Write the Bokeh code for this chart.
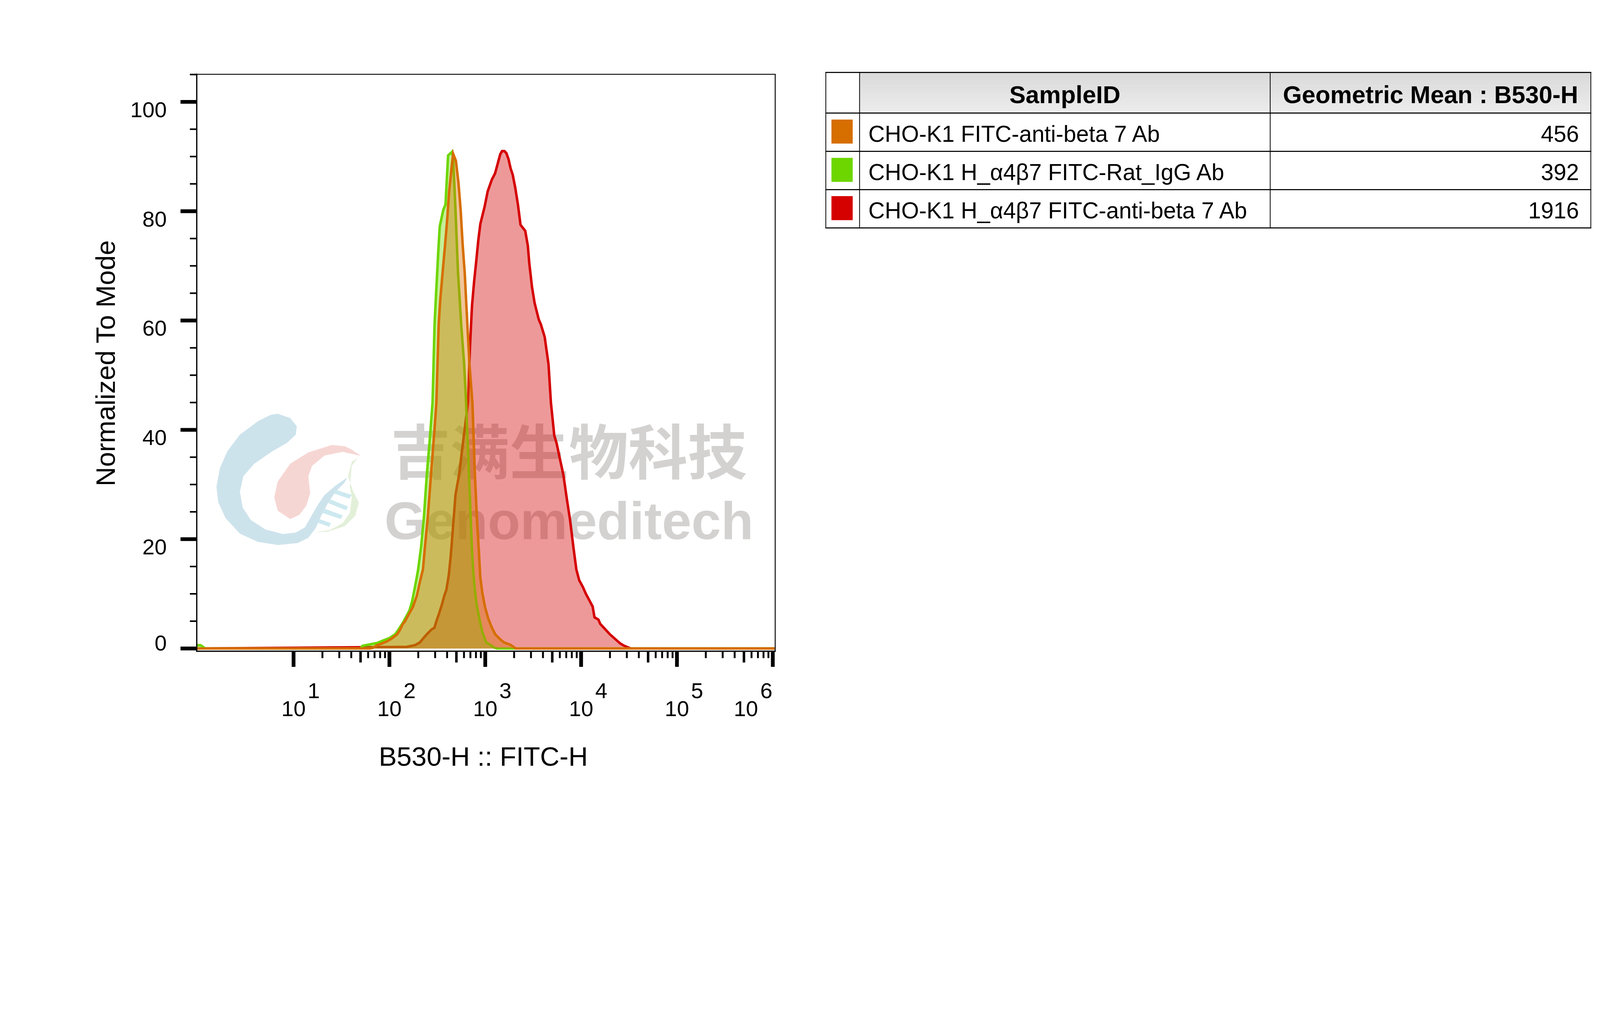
import math
from bokeh.plotting import figure
from bokeh.models import Range1d, LogScale, LinearScale
from bokeh.core.properties import value
from bokeh.embed import file_html
from bokeh.resources import INLINE

# ---------------- data ----------------
x_tick_decades = [1, 2, 3, 4, 5, 6]
y_ticks = [0, 20, 40, 60, 80, 100]
y_minor_ticks = [5, 10, 15, 25, 30, 35, 45, 50, 55, 65, 70, 75, 85, 90, 95, 105]
y_tick_labels = ["0", "20", "40", "60", "80", "100"]
x_title = "B530-H :: FITC-H"
y_title = "Normalized To Mode"

table_headers = ["SampleID", "Geometric Mean : B530-H"]
sample_ids = ["CHO-K1 FITC-anti-beta 7 Ab",
              "CHO-K1 H_\u03b14\u03b27 FITC-Rat_IgG Ab",
              "CHO-K1 H_\u03b14\u03b27 FITC-anti-beta 7 Ab"]
geo_means = ["456", "392", "1916"]
series_colors = ["#D66E00", "#6DD600", "#D50000"]

# histogram outlines: log10(B530-H) and % of mode
red_log10 = [-0.01, 2.18, 2.265, 2.317, 2.36, 2.39, 2.44, 2.47, 2.49, 2.52, 2.547, 2.57, 2.595,
             2.62, 2.64, 2.656, 2.69, 2.727, 2.77, 2.82, 2.84, 2.852, 2.862, 2.884, 2.906, 2.928,
             2.949, 2.993, 3.025, 3.069, 3.102, 3.156, 3.175, 3.20, 3.221, 3.243, 3.265, 3.286,
             3.313, 3.341, 3.368, 3.417, 3.444, 3.46, 3.488, 3.515, 3.558, 3.58, 3.62, 3.66, 3.685,
             3.72, 3.745, 3.775, 3.815, 3.85, 3.885, 3.92, 3.95, 3.98, 4.02, 4.05, 4.12, 4.14, 4.18,
             4.20, 4.30, 4.41, 4.45, 4.49, 4.52, 6.02]
red_y = [0, 0.3, 0.6, 1.1, 2.0, 2.6, 3.5, 3.8, 5.0, 6.5, 8.0, 9.5, 10.8,
         13.5, 17, 20.5, 28.2, 31.8, 38, 45, 55, 59.3, 62.8, 67.2, 70.9, 74.8,
         77.7, 80.8, 83.6, 85.8, 86.9, 90.4, 91, 91, 90.6, 89.5, 87.8, 86.7,
         84.3, 81.2, 77.5, 76.4, 73.7, 70.4, 66.1, 63.2, 60.2, 59.3, 57, 52, 45,
         39, 37.5, 35, 31.8, 27.5, 23.5, 18.5, 14.5, 12.5, 11.2, 10.0, 7.7, 5.7, 5.3,
         4.5, 2.6, 0.9, 0.5, 0.2, 0, 0]

green_log10 = [-0.01, 0.03, 0.08, 1.70, 1.72, 1.87, 1.94, 2.00, 2.06, 2.10, 2.14, 2.18, 2.21,
               2.235, 2.255, 2.28, 2.30, 2.33, 2.36, 2.39, 2.42, 2.45, 2.471, 2.487, 2.509, 2.525,
               2.563, 2.585, 2.612, 2.656, 2.667, 2.69, 2.715, 2.75, 2.78, 2.80, 2.83, 2.86, 2.875,
               2.89, 2.907, 2.938, 2.969, 3.01, 3.06, 3.09, 3.12, 6.02]
green_y = [0.6, 0.6, 0, 0, 0.5, 1.0, 1.5, 1.9, 2.6, 3.6, 4.7, 6.0, 7.0,
           8.5, 10.2, 12.5, 14.5, 18.5, 24, 31.8, 38, 45, 59.3, 65, 72.4, 77.2,
           80.3, 81.2, 90.2, 90.9, 89, 80, 69, 59, 52, 45, 32, 18.5, 14,
           11, 8.3, 5.5, 3.0, 1.1, 0.6, 0.2, 0, 0]

orange_log10 = [-0.01, 1.80, 1.83, 1.87, 1.92, 1.975, 2.03, 2.08, 2.11, 2.14, 2.16, 2.20, 2.245,
                2.285, 2.317, 2.35, 2.37, 2.40, 2.434, 2.47, 2.49, 2.514, 2.531, 2.558, 2.58,
                2.601, 2.623, 2.65, 2.665, 2.694, 2.721, 2.743, 2.765, 2.786, 2.803, 2.835, 2.866,
                2.892, 2.915, 2.931, 2.948, 2.969, 3.0, 3.031, 3.062, 3.104, 3.155, 3.197, 3.26,
                3.32, 6.02]
orange_y = [0, 0, 0.15, 0.6, 0.9, 1.3, 1.9, 2.6, 3.4, 4.5, 4.9, 6.2, 7.6,
            9.6, 12.1, 14.5, 18.5, 24, 31.8, 40, 45, 59.3, 63.9, 69.4, 73.7,
            78.1, 83.6, 88.2, 90.5, 89.2, 85.1, 80.3, 73.7, 68.7, 62.8, 52, 45,
            31.8, 23, 18.5, 13.1, 10.2, 7.4, 5.5, 4.1, 2.6, 1.7, 1.1, 0.7,
            0, 0]

# ---------------- geometry ----------------
# The page is laid out in CSS px; the photograph has 1.25 device px per CSS px.
S = 0.8                                  # CSS px per picture px
W_CSS, H_CSS = 4170, 2062                # figure size in CSS px (8px page margin)
PX0, PX1 = 8 / S, (8 + W_CSS) / S        # figure extent in picture px
PY0, PY1 = 8 / S, (8 + H_CSS) / S

FRAME_L, FRAME_T, FW, FH = 639, 247, 1851, 1846  # histogram frame, picture px
X_LO, X_HI = -0.01, 6.025                        # log10 extent of the frame
Y_LO, Y_HI = -0.5, 105.05
XS = (X_HI - X_LO) / FW        # decades per picture px
YS = (Y_HI - Y_LO) / FH        # % per picture px


def fs(v):
    return "%.1fpx" % (v * S)


def lw(v):
    return v * S


FONT = "Liberation Sans"

p = figure(width=W_CSS, height=H_CSS,
           x_range=Range1d(PX0, PX1), y_range=Range1d(PY1, PY0),
           min_border=0, x_axis_location=None, y_axis_location=None,
           output_backend="svg", toolbar_location=None,
           background_fill_color="white", border_fill_color="white")
p.outline_line_color = None
p.grid.visible = False
# histogram scales: log x, linear y, placed so the frame sits at FRAME_L / FRAME_T
p.extra_x_ranges = {"hx": Range1d(10 ** (X_LO - (FRAME_L - PX0) * XS),
                                  10 ** (X_LO + (PX1 - FRAME_L) * XS))}
p.extra_x_scales = {"hx": LogScale()}
p.extra_y_ranges = {"hy": Range1d(Y_HI - (PY1 - FRAME_T) * YS,
                                  Y_HI + (FRAME_T - PY0) * YS)}
p.extra_y_scales = {"hy": LinearScale()}
H = dict(x_range_name="hx", y_range_name="hy")

# ---- watermark (under the histograms) ----
logo_blue = [(898, 1333), (938, 1347), (959, 1373), (956, 1400), (927, 1427), (881, 1453),
             (823, 1493), (788, 1533), (777, 1583), (786, 1633), (812, 1673), (858, 1703),
             (915, 1718), (956, 1713), (985, 1697), (1002, 1667), (1025, 1627), (1048, 1593),
             (1083, 1563), (1121, 1537), (1112, 1553), (1083, 1583), (1060, 1617), (1037, 1660),
             (1019, 1700), (996, 1730), (962, 1747), (898, 1753), (835, 1743), (777, 1717),
             (731, 1667), (708, 1617), (702, 1567), (713, 1507), (737, 1453), (777, 1400),
             (835, 1357), (875, 1337)]
logo_pink = [(1071, 1433), (996, 1457), (938, 1493), (898, 1550), (887, 1600), (898, 1643),
             (938, 1670), (967, 1657), (990, 1627), (1002, 1587), (996, 1533), (1008, 1500),
             (1048, 1467), (1106, 1455), (1164, 1468), (1135, 1448), (1112, 1437)]
logo_green = [(1164, 1468), (1135, 1487), (1123, 1533), (1140, 1583), (1158, 1617), (1146, 1660),
              (1112, 1693), (1060, 1710), (1019, 1712), (1065, 1705), (1106, 1683), (1129, 1650),
              (1135, 1600), (1129, 1567), (1135, 1500), (1152, 1477)]
logo_stripes = [[(1083, 1576), (1135, 1593), (1127, 1605), (1077, 1588)],
                [(1065, 1607), (1123, 1630), (1117, 1642), (1060, 1619)],
                [(1048, 1637), (1106, 1658), (1100, 1670), (1040, 1650)],
                [(1031, 1670), (1068, 1683), (1063, 1695), (1027, 1682)]]
for pts, col in [(logo_blue, "#cde3ec"), (logo_pink, "#f6d6d3"), (logo_green, "#e3f0d9")]:
    p.patch([a for a, b in pts], [b for a, b in pts], fill_color=col, line_color=None)
p.patches([[a for a, b in s] for s in logo_stripes], [[b for a, b in s] for s in logo_stripes],
          fill_color="#cde9f0", line_color=None)

p.text(x=[1830], y=[1444], text=["吉满生物科技"],
       text_font=value("Noto Sans CJK SC"), text_font_style="bold", text_font_size=fs(190),
       text_color="#d3d2d1", text_align="center", text_baseline="middle")
p.text(x=[1830], y=[1675], text=["Genomeditech"],
       text_font=value(FONT), text_font_style="bold", text_font_size=fs(170),
       text_color="#d3d2d1", text_align="center", text_baseline="middle")

# ---- histograms: red, green, orange (orange on top) ----
for lg, yy, col in [(red_log10, red_y, series_colors[2]),
                    (green_log10, green_y, series_colors[1]),
                    (orange_log10, orange_y, series_colors[0])]:
    xx = [10 ** v for v in lg]
    p.varea(x=xx, y1=[0] * len(xx), y2=yy, fill_color=col, fill_alpha=0.4, **H)
    p.line(xx, yy, line_color=col, line_width=lw(8), line_join="miter", **H)

# ---- frame and axes ----
xl, xr = 10 ** X_LO, 10 ** X_HI
p.segment(x0=[xl, xl], y0=[Y_LO, Y_LO], x1=[xl, xr], y1=[Y_HI, Y_LO],
          line_color="black", line_width=lw(4), line_cap="square", **H)
p.segment(x0=[xl, xr], y0=[Y_HI, Y_HI], x1=[xr, xr], y1=[Y_HI, Y_LO],
          line_color="black", line_width=lw(3), line_cap="square", **H)

# y ticks
p.segment(x0=[xl] * len(y_ticks), x1=[10 ** (X_LO - 52 * XS)] * len(y_ticks),
          y0=y_ticks, y1=y_ticks, line_color="black", line_width=lw(12), **H)
p.segment(x0=[xl] * len(y_minor_ticks), x1=[10 ** (X_LO - 22 * XS)] * len(y_minor_ticks),
          y0=y_minor_ticks, y1=y_minor_ticks, line_color="black", line_width=lw(5), **H)

# x ticks (decades, halves and minors)
x_major = [10 ** k for k in x_tick_decades]
x_mid = [5 * 10 ** k for k in range(1, 6)]
x_minor = [m * 10 ** k for k in range(1, 6) for m in (2, 3, 4, 6, 7, 8, 9)]
for ticks, length, width in [(x_major, 50, 12), (x_mid, 36, 8), (x_minor, 22, 6)]:
    p.segment(x0=ticks, x1=ticks, y0=[Y_LO] * len(ticks), y1=[Y_LO - length * YS] * len(ticks),
              line_color="black", line_width=lw(width), **H)

# x tick labels: "10" with raised exponent (last one pulled inside)
shift_10 = [0] * (len(x_tick_decades) - 1) + [-86 * S]
shift_exp = [45 * S] * (len(x_tick_decades) - 1) + [-40 * S]
p.text(x=x_major, y=[2277] * len(x_major), text=["10"] * len(x_major), x_offset=shift_10,
       x_range_name="hx", text_font=value(FONT), text_font_size=fs(70), text_color="black",
       text_align="center", text_baseline="middle")
p.text(x=x_major, y=[2219] * len(x_major), text=[str(k) for k in x_tick_decades],
       x_offset=shift_exp, x_range_name="hx", text_font=value(FONT), text_font_size=fs(70),
       text_color="black", text_align="left", text_baseline="middle")

# y tick labels
p.text(x=[543] * len(y_ticks), y=y_ticks, text=y_tick_labels,
       y_offset=[(-17 if v == 0 else 25) * S for v in y_ticks], y_range_name="hy",
       text_font=value(FONT), text_font_size=fs(70), text_color="black",
       text_align="right", text_baseline="middle")

# axis titles
p.text(x=[1556], y=[2430], text=[x_title], text_font=value(FONT), text_font_size=fs(86),
       text_color="black", text_align="center", text_baseline="middle")
p.text(x=[348], y=[1171], text=[y_title], angle=math.pi / 2,
       text_font=value(FONT), text_font_size=fs(86), text_color="black",
       text_align="center", text_baseline="middle")

# ---------------- statistics table ----------------
L, C1, C2, R = 2652, 2760, 4074, 5100
TOP, HB = 241, 371
ROWS = [371, 493.5, 616, 738.5]

n = 13
h = (HB - TOP) / n
for i in range(n):
    g = int(218 + (236 - 218) * i / (n - 1))
    p.quad(left=C1, right=R, top=TOP + i * h, bottom=TOP + (i + 1) * h + 0.5,
           fill_color=(g, g, g), line_color=None)

for yv in [TOP, HB] + ROWS[1:]:
    p.segment(x0=L - 1.5, x1=R + 1.5, y0=yv, y1=yv, line_color="black", line_width=lw(3.5))
for xv in [L, C1, C2, R]:
    p.segment(x0=xv, x1=xv, y0=TOP, y1=ROWS[-1], line_color="black", line_width=lw(2.5))

row_tops = ROWS[:-1]
row_mid = [(a + b) / 2 for a, b in zip(ROWS[:-1], ROWS[1:])]
p.rect(x=[2704] * 3, y=[m - 2 for m in row_mid], width=68, height=77,
       fill_color=series_colors, line_color=None)
p.text(x=[2788] * 3, y=[rt + 66 for rt in row_tops], text=sample_ids,
       text_font=value(FONT), text_font_size=fs(73), text_color="black",
       text_align="left", text_baseline="middle")
p.text(x=[5062] * 3, y=[rt + 66 for rt in row_tops], text=geo_means,
       text_font=value(FONT), text_font_size=fs(73), text_color="black",
       text_align="right", text_baseline="middle")
p.text(x=[(C1 + C2) / 2, (C2 + R) / 2], y=[312] * 2, text=table_headers,
       text_font=value(FONT), text_font_style="bold", text_font_size=fs(78),
       text_color="black", text_align="center", text_baseline="middle")

open("out.html", "w").write(file_html(p, INLINE))
